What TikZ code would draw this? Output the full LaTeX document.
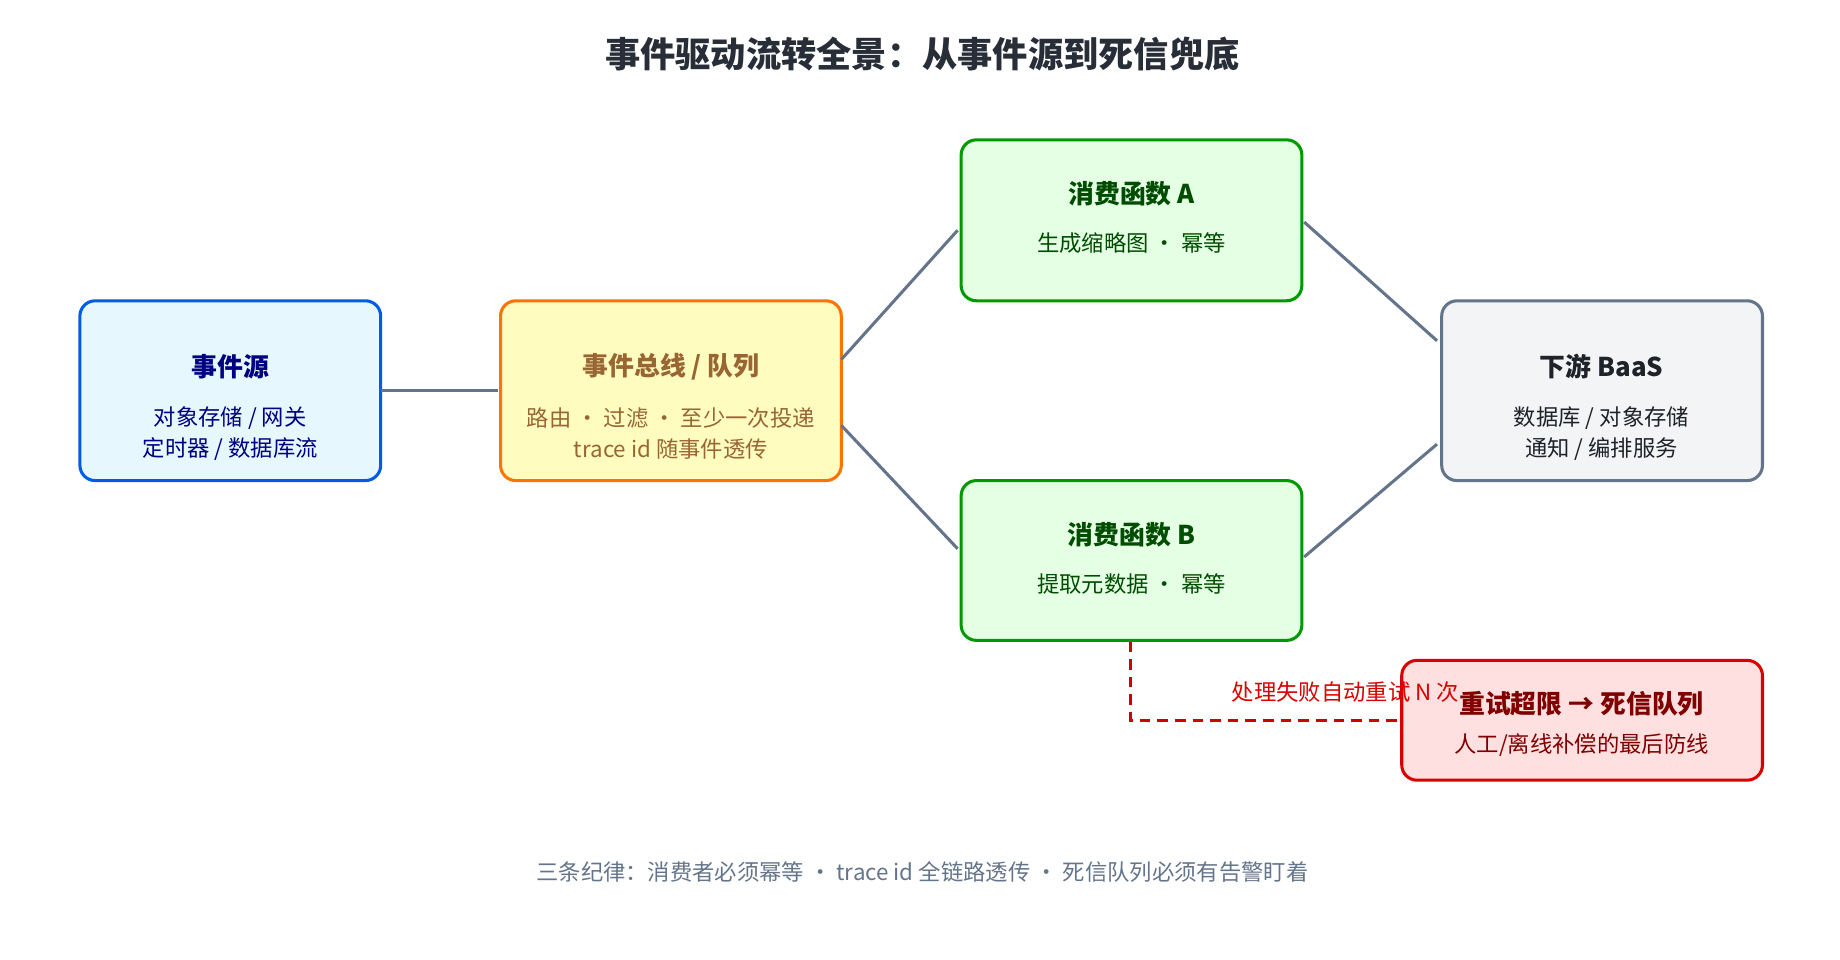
\documentclass[tikz,border=0pt]{standalone}
\usepackage{fontspec}
\setmainfont{Noto Sans CJK SC}
\newfontfamily\cjkb[BoldFont={Noto Sans CJK SC Bold}]{Noto Sans CJK SC}
\begin{document}
\begin{tikzpicture}[x=1pt,y=-1pt,
 box/.style={draw,line width=2.6pt,rounded corners=13pt},
 conn/.style={draw=lineg,line width=2.6pt},
 tt/.style={font=\fontsize{22}{26}\selectfont\bfseries},
 bd/.style={font=\fontsize{19}{30}\selectfont,align=center}]
\definecolor{lineg}{HTML}{64748B}
\useasboundingbox (0,0) rectangle (1566,817);
\node[font=\fontsize{30}{36}\selectfont\bfseries,text=lineg!40!black] (title) at (785,46) {事件驱动流转全景：从事件源到死信兜底};
% boxes
\path[box,draw=blue!60!cyan!90!black,fill=cyan!10] (68,256) rectangle (324,409);
\node[coordinate] (src) at (196,332) {};
\node[tt,text=blue!50!black] (srct) at (196,312) {事件源};
\node[bd,text=blue!50!black] (srcb) at (196,369) {对象存储 / 网关\\[-4pt]定时器 / 数据库流};
\path[box,draw=orange!90!red,fill=yellow!25] (426,256) rectangle (716,409);
\node[tt,text=brown!80!black] (bust) at (571,312) {事件总线 / 队列};
\node[bd,text=brown!80!black] (busb) at (571,369) {路由 · 过滤 · 至少一次投递\\[-4pt]trace id 随事件透传};
\path[box,draw=green!60!black,fill=green!10] (818,119) rectangle (1108,256);
\node[tt,text=green!30!black] (at) at (963,165) {消费函数 A};
\node[bd,text=green!30!black] (ab) at (963,207) {生成缩略图 · 幂等};
\path[box,draw=green!60!black,fill=green!10] (818,409) rectangle (1108,545);
\node[tt,text=green!30!black] (bt) at (963,455) {消费函数 B};
\node[bd,text=green!30!black] (bb) at (963,497) {提取元数据 · 幂等};
\path[box,draw=lineg,fill=lineg!8] (1227,256) rectangle (1500,409);
\node[tt,text=lineg!30!black] (dt) at (1363,312) {下游 BaaS};
\node[bd,text=lineg!30!black] (db) at (1363,369) {数据库 / 对象存储\\[-4pt]通知 / 编排服务};
% connectors
\coordinate (s1) at (324,332); \coordinate (s2) at (424,332);
\coordinate (b1) at (716,306); \coordinate (a1) at (815,196);
\coordinate (b2) at (716,362); \coordinate (a2) at (815,467);
\coordinate (a3) at (1110,189); \coordinate (d1) at (1223,290);
\coordinate (a4) at (1110,474); \coordinate (d2) at (1223,378);
\draw[conn] (s1)--(s2); \draw[conn] (b1)--(a1); \draw[conn] (b2)--(a2);
\draw[conn] (a3)--(d1); \draw[conn] (a4)--(d2);
\coordinate (r0) at (962,546); \coordinate (r1) at (962,613); \coordinate (r2) at (1191,613);
\draw[red!80!black,line width=2.6pt,dash pattern=on 9pt off 6pt] (r0)--(r1)--(r2);
\path[box,draw=red!85!black,fill=red!12] (1193,562) rectangle (1500,664);
\node[font=\fontsize{19}{22}\selectfont,text=red!85!black] (lab) at (1145,589) {处理失败自动重试 N 次};
\node[tt,text=red!50!black] (rt) at (1346,599) {重试超限 → 死信队列};
\node[bd,text=red!50!black] (rb) at (1346,634) {人工/离线补偿的最后防线};
\node[font=\fontsize{19}{22}\selectfont,text=lineg] (foot) at (785,742) {三条纪律：消费者必须幂等 · trace id 全链路透传 · 死信队列必须有告警盯着};
\end{tikzpicture}
\end{document}
